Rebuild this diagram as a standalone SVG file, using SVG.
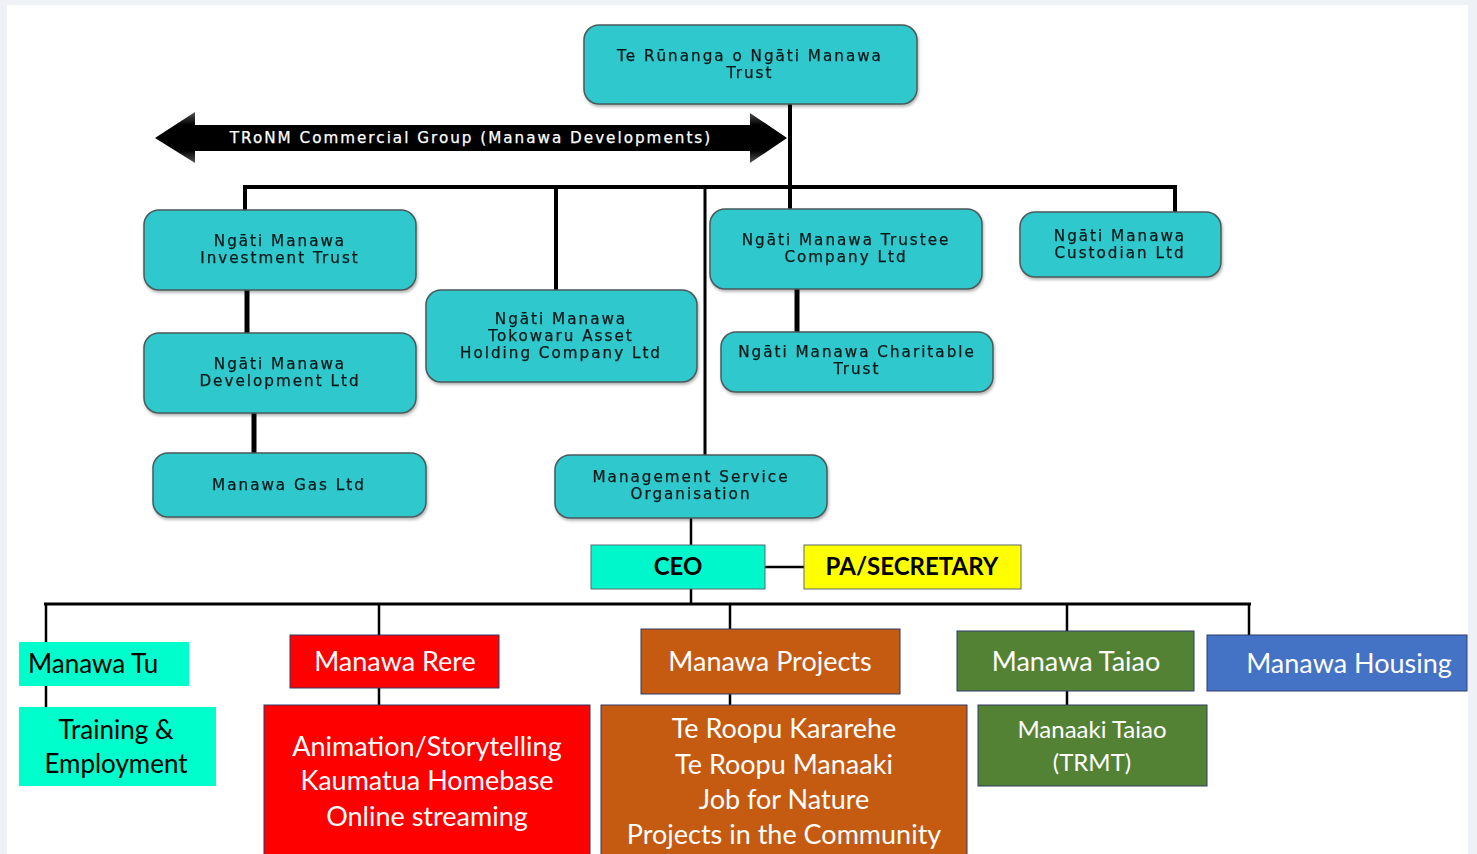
<svg xmlns="http://www.w3.org/2000/svg" width="1477" height="854" viewBox="0 0 1477 854">
<defs>
<style>
.t{fill:#2ec8cd;stroke:#4a5a5a;stroke-width:1.5}
.tt{font-family:"DejaVu Sans",Verdana,sans-serif;font-size:15.2px;letter-spacing:2px;fill:#0a1818;stroke:#0a1818;stroke-width:0.25;text-anchor:middle}
.c{stroke:#000;fill:none}
.b{font-family:Lato,"Open Sans",sans-serif;text-anchor:middle}
.w{fill:#fff}
</style>
<linearGradient id="sh" x1="0" y1="0" x2="0" y2="1">
<stop offset="0" stop-color="#555"/>
<stop offset="0.25" stop-color="#000"/>
<stop offset="0.75" stop-color="#000"/>
<stop offset="1" stop-color="#555"/>
</linearGradient>
<filter id="ds" x="-5%" y="-5%" width="110%" height="120%">
<feDropShadow dx="1" dy="2" stdDeviation="1.5" flood-color="#000" flood-opacity="0.3"/>
</filter>
</defs>
<rect x="0" y="0" width="1477" height="854" fill="#eef2f6"/>
<rect x="7" y="5" width="1461" height="849" fill="#fff"/>

<g id="connectors">
<line class="c" x1="790" y1="104" x2="790" y2="189" stroke-width="4"/>
<line class="c" x1="243" y1="187" x2="1177" y2="187" stroke-width="4"/>
<line class="c" x1="245" y1="187" x2="245" y2="210" stroke-width="4"/>
<line class="c" x1="556" y1="187" x2="556" y2="290" stroke-width="4"/>
<line class="c" x1="790" y1="187" x2="790" y2="209" stroke-width="4"/>
<line class="c" x1="1175" y1="187" x2="1175" y2="212" stroke-width="4"/>
<line class="c" x1="705" y1="187" x2="705" y2="455" stroke-width="3"/>
<line class="c" x1="247" y1="290" x2="247" y2="333" stroke-width="5"/>
<line class="c" x1="254" y1="413" x2="254" y2="453" stroke-width="5"/>
<line class="c" x1="797" y1="289" x2="797" y2="332" stroke-width="5"/>
<line class="c" x1="691" y1="518" x2="691" y2="545" stroke-width="2.5"/>
<line class="c" x1="765" y1="567" x2="804" y2="567" stroke-width="2.5"/>
<line class="c" x1="691" y1="589" x2="691" y2="604" stroke-width="2.5"/>
<line class="c" x1="44" y1="604" x2="1251" y2="604" stroke-width="3"/>
<line class="c" x1="46" y1="604" x2="46" y2="707" stroke-width="2.5"/>
<line class="c" x1="379" y1="604" x2="379" y2="705" stroke-width="2.5"/>
<line class="c" x1="730" y1="604" x2="730" y2="705" stroke-width="2.5"/>
<line class="c" x1="1067" y1="604" x2="1067" y2="705" stroke-width="2.5"/>
<line class="c" x1="1249" y1="604" x2="1249" y2="635" stroke-width="2.5"/>
</g>

<g id="commercial-arrow">
<polygon points="155,138 195,112 195,125 750,125 750,113 787,138 750,163 750,151 195,151 195,163" fill="url(#sh)"/>
<text x="471" y="143" class="tt" style="fill:#fff;stroke:#fff">TRoNM Commercial Group (Manawa Developments)</text>
</g>

<g id="runanga" filter="url(#ds)">
<rect class="t" x="584" y="25" width="333" height="79" rx="15"/>
<text class="tt" x="750" y="61">Te Rūnanga o Ngāti Manawa</text>
<text class="tt" x="750" y="78">Trust</text>
</g>

<g id="investment-trust" filter="url(#ds)">
<rect class="t" x="144" y="210" width="272" height="80" rx="15"/>
<text class="tt" x="280" y="246">Ngāti Manawa</text>
<text class="tt" x="280" y="263">Investment Trust</text>
</g>

<g id="development-ltd" filter="url(#ds)">
<rect class="t" x="144" y="333" width="272" height="80" rx="15"/>
<text class="tt" x="280" y="369">Ngāti Manawa</text>
<text class="tt" x="280" y="386">Development Ltd</text>
</g>

<g id="gas-ltd" filter="url(#ds)">
<rect class="t" x="153" y="453" width="273" height="64" rx="15"/>
<text class="tt" x="289" y="490">Manawa Gas Ltd</text>
</g>

<g id="tokowaru" filter="url(#ds)">
<rect class="t" x="426" y="290" width="271" height="92" rx="15"/>
<text class="tt" x="561" y="324">Ngāti Manawa</text>
<text class="tt" x="561" y="341">Tokowaru Asset</text>
<text class="tt" x="561" y="358">Holding Company Ltd</text>
</g>

<g id="trustee-company" filter="url(#ds)">
<rect class="t" x="710" y="209" width="272" height="80" rx="15"/>
<text class="tt" x="846" y="245">Ngāti Manawa Trustee</text>
<text class="tt" x="846" y="262">Company Ltd</text>
</g>

<g id="charitable-trust" filter="url(#ds)">
<rect class="t" x="721" y="332" width="272" height="60" rx="15"/>
<text class="tt" x="857" y="357">Ngāti Manawa Charitable</text>
<text class="tt" x="857" y="374">Trust</text>
</g>

<g id="custodian" filter="url(#ds)">
<rect class="t" x="1020" y="212" width="201" height="65" rx="15"/>
<text class="tt" x="1120" y="241">Ngāti Manawa</text>
<text class="tt" x="1120" y="258">Custodian Ltd</text>
</g>

<g id="mso" filter="url(#ds)">
<rect class="t" x="555" y="455" width="272" height="63" rx="15"/>
<text class="tt" x="691" y="482">Management Service</text>
<text class="tt" x="691" y="499">Organisation</text>
</g>

<g id="ceo">
<rect x="591" y="545" width="174" height="44" fill="#00f7cc" stroke="#5b6b73" stroke-width="1"/>
<text class="b" x="678" y="575" font-size="24" font-weight="bold" fill="#000">CEO</text>
</g>

<g id="pa-secretary">
<rect x="804" y="545" width="217" height="44" fill="#ffff00" stroke="#5b6b73" stroke-width="1"/>
<text class="b" x="912" y="575" font-size="24" font-weight="bold" fill="#000">PA/SECRETARY</text>
</g>

<g id="manawa-tu">
<rect x="19" y="642" width="170" height="44" fill="#00fdcc"/>
<text x="28" y="673" font-family="Lato,'Open Sans',sans-serif" font-size="26" fill="#000">Manawa Tu</text>
</g>

<g id="training">
<rect x="19" y="707" width="197" height="79" fill="#00fdcc"/>
<text class="b" x="116" y="739" font-size="26" fill="#000">Training &amp;</text>
<text class="b" x="116" y="773" font-size="26" fill="#000">Employment</text>
</g>

<g id="manawa-rere">
<rect x="290" y="635" width="209" height="53" fill="#ff0000" stroke="#2f3a6b" stroke-width="1"/>
<text class="b w" x="395" y="671" font-size="27">Manawa Rere</text>
</g>

<g id="rere-projects">
<rect x="264" y="705" width="326" height="160" fill="#ff0000" stroke="#2f3a6b" stroke-width="1"/>
<text class="b w" x="427" y="756" font-size="27">Animation/Storytelling</text>
<text class="b w" x="427" y="790" font-size="27">Kaumatua Homebase</text>
<text class="b w" x="427" y="826" font-size="27">Online streaming</text>
</g>

<g id="manawa-projects">
<rect x="641" y="629" width="259" height="65" fill="#c55a11" stroke="#2f3a6b" stroke-width="1"/>
<text class="b w" x="770" y="671" font-size="27">Manawa Projects</text>
</g>

<g id="projects-list">
<rect x="601" y="705" width="366" height="160" fill="#c55a11" stroke="#2f3a6b" stroke-width="1"/>
<text class="b w" x="784" y="738" font-size="27">Te Roopu Kararehe</text>
<text class="b w" x="784" y="774" font-size="27">Te Roopu Manaaki</text>
<text class="b w" x="784" y="809" font-size="27">Job for Nature</text>
<text class="b w" x="784" y="844" font-size="27">Projects in the Community</text>
</g>

<g id="manawa-taiao">
<rect x="957" y="631" width="237" height="60" fill="#548235" stroke="#2f3a6b" stroke-width="1"/>
<text class="b w" x="1076" y="671" font-size="27">Manawa Taiao</text>
</g>

<g id="manaaki-taiao">
<rect x="978" y="705" width="229" height="81" fill="#548235" stroke="#2f3a6b" stroke-width="1"/>
<text class="b w" x="1092" y="738" font-size="24">Manaaki Taiao</text>
<text class="b w" x="1092" y="771" font-size="24">(TRMT)</text>
</g>

<g id="manawa-housing">
<rect x="1207" y="635" width="260" height="56" fill="#4472c4" stroke="#2f3a6b" stroke-width="1"/>
<text class="b w" x="1349" y="673" font-size="27">Manawa Housing</text>
</g>
</svg>
